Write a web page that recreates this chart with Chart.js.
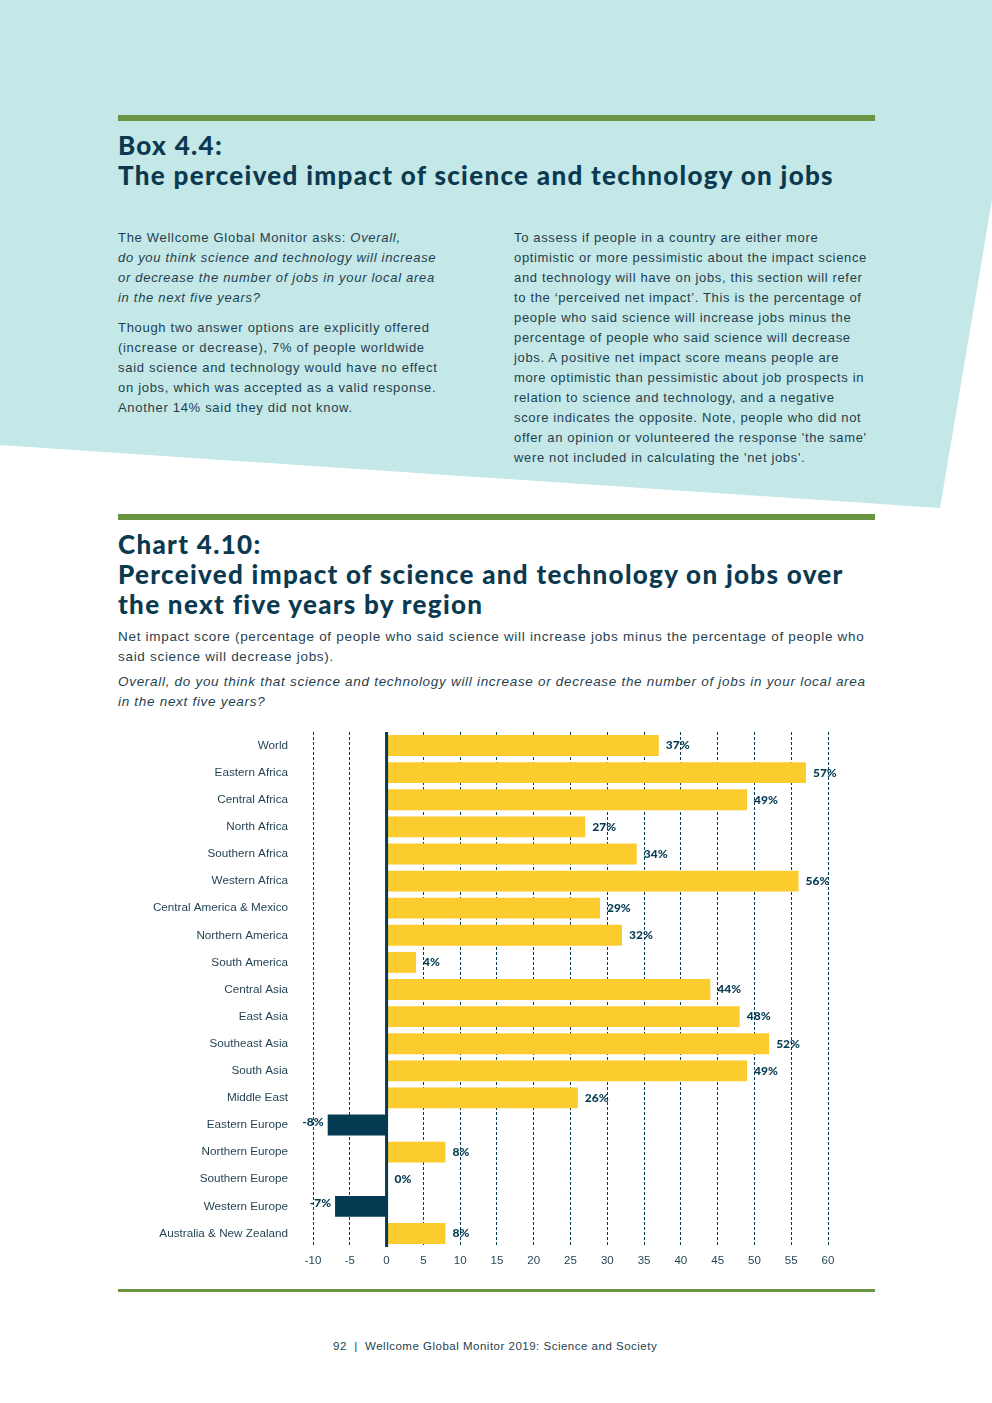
<!DOCTYPE html>
<html>
<head>
<meta charset="utf-8">
<script src="https://cdn.jsdelivr.net/npm/chart.js@4"></script>
<style>
  body { margin: 0; width: 992px; height: 1403px; position: relative; background: #fff; overflow: hidden; }
  .bg { position: absolute; left: 0; top: 0; width: 992px; height: 520px; background: #c4e7e7;
        clip-path: polygon(0 0, 992px 0, 992px 200px, 940px 508px, 0 445px); }
  .rule { position: absolute; left: 118px; width: 757px; background: #6a9441; }
  .head { position: absolute; left: 118px; font-family: Lato, sans-serif; font-weight: 900; font-size: 26px;
          line-height: 30px; color: #0b3a50; white-space: nowrap; letter-spacing: 1.3px; }
  .body { position: absolute; font-family: "Liberation Sans", Arial, sans-serif; font-size: 13px; line-height: 20px;
          color: #1f3f4f; white-space: nowrap; letter-spacing: 0.7px; }
  .body p { margin: 0 0 10px 0; }
  #wrap { position: absolute; left: 118px; top: 725px; width: 757px; height: 555px; }
  .foot { position: absolute; left: 333px; top: 1338px; font-family: "Liberation Sans", Arial, sans-serif;
          font-size: 11.5px; line-height: 16px; color: #1f3f4f; letter-spacing: 0.5px; }
</style>
</head>
<body>
<div class="bg"></div>
<div class="rule" style="top:115px;height:6px"></div>
<div class="head" style="top:130px">Box 4.4:<br>The perceived impact of science and technology on jobs</div>

<div class="body" style="left:118px;top:228px">
  <p>The Wellcome Global Monitor asks: <i>Overall,</i><br><i>do you think science and technology will increase</i><br><i>or decrease the number of jobs in your local area</i><br><i>in the next five years?</i></p>
  <p>Though two answer options are explicitly offered<br>(increase or decrease), 7% of people worldwide<br>said science and technology would have no effect<br>on jobs, which was accepted as a valid response.<br>Another 14% said they did not know.</p>
</div>
<div class="body" style="left:514px;top:228px;letter-spacing:0.65px">
  <p>To assess if people in a country are either more<br>optimistic or more pessimistic about the impact science<br>and technology will have on jobs, this section will refer<br>to the ‘perceived net impact’. This is the percentage of<br>people who said science will increase jobs minus the<br>percentage of people who said science will decrease<br>jobs. A positive net impact score means people are<br>more optimistic than pessimistic about job prospects in<br>relation to science and technology, and a negative<br>score indicates the opposite. Note, people who did not<br>offer an opinion or volunteered the response 'the same'<br>were not included in calculating the 'net jobs'.</p>
</div>

<div class="rule" style="top:514px;height:6px"></div>
<div class="head" style="top:529px">Chart 4.10:<br>Perceived impact of science and technology on jobs over<br>the next five years by region</div>
<div class="body" style="left:118px;top:627px;font-size:13.5px;letter-spacing:0.7px">
  <p style="margin-bottom:5px">Net impact score (percentage of people who said science will increase jobs minus the percentage of people who<br>said science will decrease jobs).</p>
  <p><i>Overall, do you think that science and technology will increase or decrease the number of jobs in your local area<br>in the next five years?</i></p>
</div>

<div id="wrap"><canvas id="jobsChart"></canvas></div>

<div class="rule" style="top:1289px;height:3px"></div>
<div class="foot">92 &nbsp;|&nbsp; Wellcome Global Monitor 2019: Science and Society</div>

<script>
// regiones y puntuación neta (%)
const regions = [
  "World", "Eastern Africa", "Central Africa", "North Africa", "Southern Africa", "Western Africa",
  "Central America & Mexico", "Northern America", "South America", "Central Asia", "East Asia",
  "Southeast Asia", "South Asia", "Middle East", "Eastern Europe", "Northern Europe",
  "Southern Europe", "Western Europe", "Australia & New Zealand"
];
const netScores = [37, 57, 49, 27, 34, 56, 29, 32, 4, 44, 48, 52, 49, 26, -8, 8, 0, -7, 8];
const xMin = -10;
const xMax = 60;
const xStep = 5;

const NAVY = "#053a53";
const YELLOW = "#fccc2e";

// etiquetas de valor al final de cada barra
const valueLabels = {
  id: "valueLabels",
  afterDatasetsDraw(chart) {
    const ctx = chart.ctx;
    const meta = chart.getDatasetMeta(0);
    ctx.save();
    ctx.font = "900 12px Lato, sans-serif";
    ctx.fillStyle = NAVY;
    ctx.textBaseline = "middle";
    meta.data.forEach((bar, i) => {
      const v = netScores[i];
      if (v < 0) {
        ctx.textAlign = "right";
        ctx.fillText(v + "%", bar.x - 4, bar.y - 3);
      } else {
        ctx.textAlign = "left";
        ctx.fillText(v + "%", bar.x + (v === 0 ? 8 : 7), bar.y);
      }
    });
    ctx.restore();
  }
};

// línea del cero gruesa
const zeroLine = {
  id: "zeroLine",
  afterDatasetsDraw(chart) {
    const x = chart.scales.x.getPixelForValue(0);
    const area = chart.chartArea;
    const ctx = chart.ctx;
    ctx.save();
    ctx.strokeStyle = NAVY;
    ctx.lineWidth = 3;
    ctx.beginPath();
    ctx.moveTo(x, area.top);
    ctx.lineTo(x, area.bottom);
    ctx.stroke();
    ctx.restore();
  }
};

const ctx = document.getElementById("jobsChart").getContext("2d");
new Chart(ctx, {
  type: "bar",
  data: {
    labels: regions,
    datasets: [{
      data: netScores,
      backgroundColor: netScores.map(v => (v < 0 ? NAVY : YELLOW)),
      categoryPercentage: 1,
      barPercentage: 0.77
    }]
  },
  options: {
    indexAxis: "y",
    responsive: true,
    maintainAspectRatio: false,
    animation: false,
    layout: { padding: { top: 7, right: 47, bottom: 0, left: 0 } },
    plugins: { legend: { display: false }, tooltip: { enabled: false } },
    scales: {
      x: {
        min: xMin,
        max: xMax,
        afterFit: scale => { scale.height = 33; },
        ticks: { stepSize: xStep, padding: 7, color: "#1f3f4f", font: { family: "Liberation Sans", size: 11.5 } },
        grid: {
          drawTicks: false,
          color: ctx => (ctx.tick && ctx.tick.value === 0 ? "rgba(0,0,0,0)" : NAVY),
          lineWidth: 1
        },
        border: { display: false, dash: [3, 2] }
      },
      y: {
        afterFit: scale => {
          scale.width = 195;
          scale.paddingTop = 0;
          scale.paddingBottom = 0;
        },
        ticks: { padding: 25, color: "#1f3f4f", font: { family: "Liberation Sans", size: 11.7 } },
        grid: { display: false, drawTicks: false },
        border: { display: false }
      }
    }
  },
  plugins: [valueLabels, zeroLine]
});
</script>
</body>
</html>
